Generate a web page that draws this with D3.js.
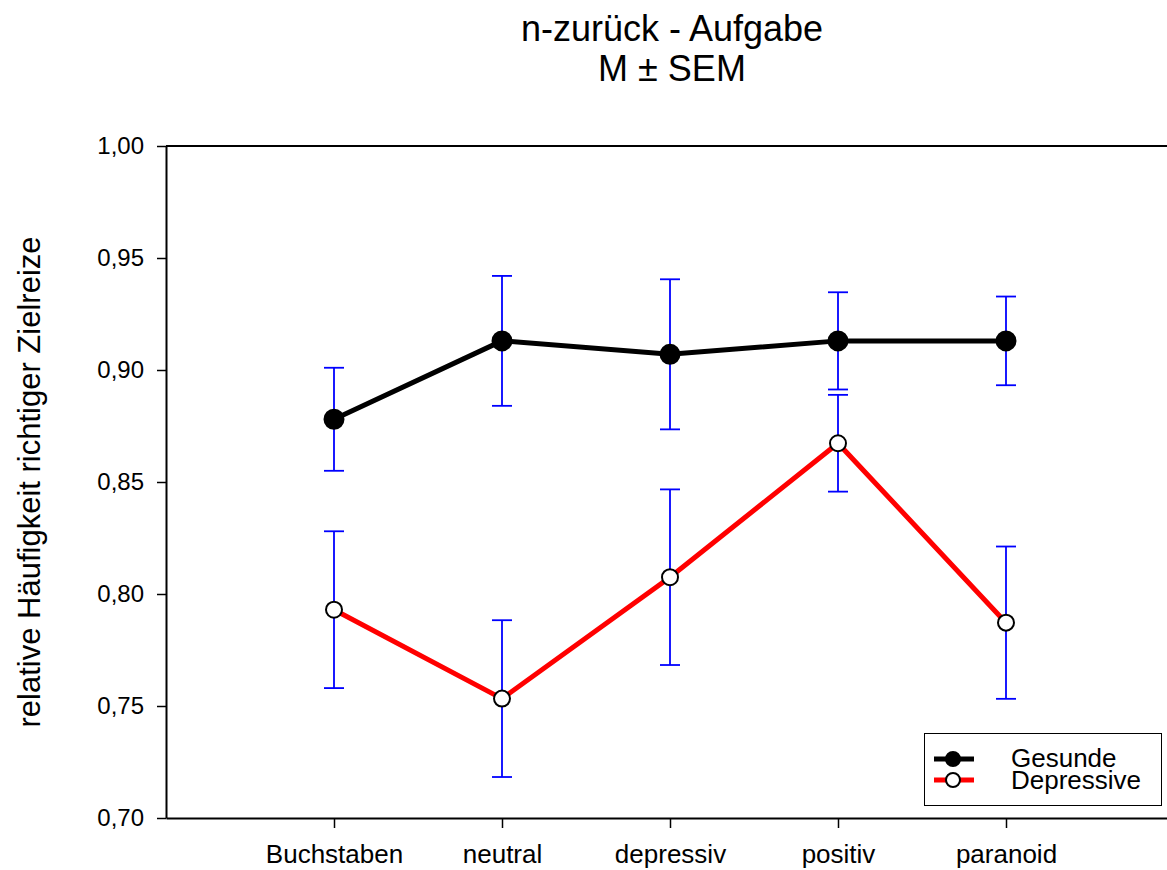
<!DOCTYPE html>
<html>
<head>
<meta charset="utf-8">
<script src="https://cdn.jsdelivr.net/npm/d3@7"></script>
<style>
  body { margin: 0; background: #fff; }
  text { font-family: "Liberation Sans", Arial, sans-serif; fill: #000; }
</style>
</head>
<body>
<div id="chart"></div>
<script>
var categories = ['Buchstaben', 'neutral', 'depressiv', 'positiv', 'paranoid'];
var gesundeMean = [0.878, 0.913, 0.907, 0.913, 0.913];
var gesundeSem = [0.023, 0.029, 0.0335, 0.0217, 0.0198];
var depressiveMean = [0.793, 0.7533, 0.8075, 0.8673, 0.7872];
var depressiveSem = [0.035, 0.035, 0.0392, 0.0216, 0.034];
var yTicks = [0.70, 0.75, 0.80, 0.85, 0.90, 0.95, 1.00];

var width = 1167,
    height = 870,
    plotLeft = 166,
    plotTop = 146,
    plotBottom = 818,
    plotRight = 1174;

var locale = d3.formatLocale({ decimal: ',', thousands: '.', grouping: [3], currency: ['', ''] });
var fmt = locale.format('.2f');

var x = d3.scalePoint()
  .domain(categories)
  .range([plotLeft, plotRight])
  .padding(1);
var y = d3.scaleLinear()
  .domain([0.70, 1.00])
  .range([plotBottom, plotTop]);

var svg = d3.select('#chart')
  .append('svg')
    .attr('width', width)
    .attr('height', height);

// titel
svg.append('text')
  .attr('x', 672).attr('y', 41)
  .attr('text-anchor', 'middle')
  .style('font-size', '36px')
  .text('n-zurück - Aufgabe');
svg.append('text')
  .attr('x', 672).attr('y', 81)
  .attr('text-anchor', 'middle')
  .style('font-size', '36px')
  .text('M ± SEM');

// achsen
var yAxis = svg.append('g')
  .attr('transform', 'translate(' + plotLeft + ',0)')
  .call(d3.axisLeft(y).tickValues(yTicks).tickFormat(fmt).tickSize(9).tickSizeOuter(0).tickPadding(13));
var xAxis = svg.append('g')
  .attr('transform', 'translate(0,' + plotBottom + ')')
  .call(d3.axisBottom(x).tickSize(10).tickSizeOuter(0).tickPadding(17));

[yAxis, xAxis].forEach(function (a) {
  a.selectAll('path.domain').attr('stroke', '#000').attr('stroke-width', 2);
  a.selectAll('.tick line').attr('stroke', '#000').attr('stroke-width', 1.5);
  a.selectAll('.tick text')
    .style('font-family', '"Liberation Sans", Arial, sans-serif')
    .attr('fill', '#000');
});
yAxis.selectAll('.tick text').style('font-size', '24px');
xAxis.selectAll('.tick text').style('font-size', '26px');

svg.append('line')
  .attr('x1', plotLeft).attr('x2', plotRight)
  .attr('y1', plotTop).attr('y2', plotTop)
  .attr('stroke', '#000').attr('stroke-width', 2);

svg.append('text')
  .attr('transform', 'translate(40,' + ((plotTop + plotBottom) / 2) + ') rotate(-90)')
  .attr('text-anchor', 'middle')
  .style('font-size', '31px')
  .text('relative Häufigkeit richtiger Zielreize');

var series = [
  { mean: gesundeMean, sem: gesundeSem, line: '#000', fill: '#000', r: 9.5 },
  { mean: depressiveMean, sem: depressiveSem, line: '#ff0000', fill: '#fff', r: 8 }
];

// fehlerbalken
series.forEach(function (s) {
  var g = svg.append('g').attr('stroke', '#0000ff').attr('stroke-width', 1.8);
  categories.forEach(function (c, i) {
    var cx = x(c), hi = y(s.mean[i] + s.sem[i]), lo = y(s.mean[i] - s.sem[i]);
    g.append('line').attr('x1', cx).attr('x2', cx).attr('y1', hi).attr('y2', lo);
    g.append('line').attr('x1', cx - 10).attr('x2', cx + 10).attr('y1', hi).attr('y2', hi);
    g.append('line').attr('x1', cx - 10).attr('x2', cx + 10).attr('y1', lo).attr('y2', lo);
  });
});

var line = d3.line()
  .x(function (d, i) { return x(categories[i]); })
  .y(function (d) { return y(d); });

series.forEach(function (s) {
  svg.append('path')
    .datum(s.mean)
    .attr('d', line)
    .attr('fill', 'none')
    .attr('stroke', s.line)
    .attr('stroke-width', 5);
});

series.forEach(function (s) {
  svg.selectAll(null)
    .data(s.mean)
    .enter().append('circle')
      .attr('cx', function (d, i) { return x(categories[i]); })
      .attr('cy', function (d) { return y(d); })
      .attr('r', s.r)
      .attr('fill', s.fill)
      .attr('stroke', '#000')
      .attr('stroke-width', 2);
});

// legende
var lg = svg.append('g');
lg.append('rect')
  .attr('x', 924.5).attr('y', 733.5)
  .attr('width', 237).attr('height', 72)
  .attr('fill', '#fff').attr('stroke', '#000').attr('stroke-width', 1);
var legendItems = [
  { name: 'Gesunde', s: series[0], y: 759, base: 767 },
  { name: 'Depressive', s: series[1], y: 780, base: 789 }
];
legendItems.forEach(function (it) {
  lg.append('line')
    .attr('x1', 934).attr('x2', 974)
    .attr('y1', it.y).attr('y2', it.y)
    .attr('stroke', it.s.line).attr('stroke-width', 5);
  lg.append('circle')
    .attr('cx', 953).attr('cy', it.y).attr('r', 7)
    .attr('fill', it.s.fill).attr('stroke', '#000').attr('stroke-width', 2);
  lg.append('text')
    .attr('x', 1011).attr('y', it.base)
    .style('font-size', '26px')
    .text(it.name);
});
</script>
</body>
</html>
